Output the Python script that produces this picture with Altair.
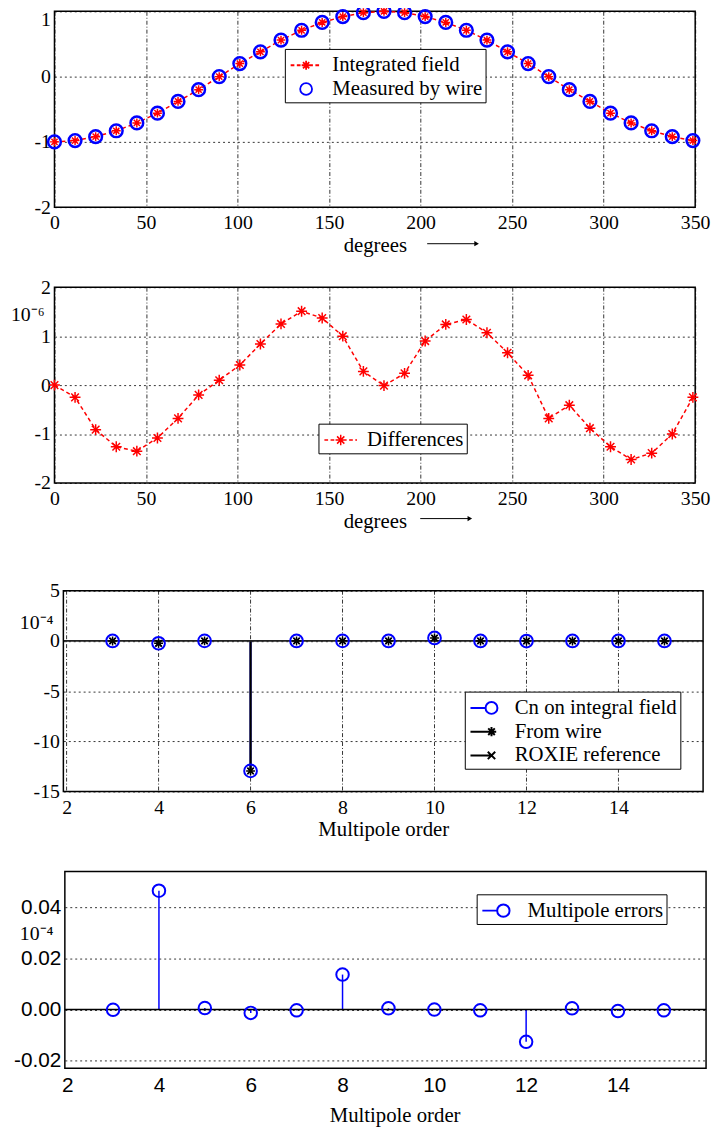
import altair as alt
import pandas as pd

# ---------------- data ----------------
angles = [0, 11.25, 22.5, 33.75, 45, 56.25, 67.5, 78.75, 90, 101.25, 112.5, 123.75,
          135, 146.25, 157.5, 168.75, 180, 191.25, 202.5, 213.75, 225, 236.25, 247.5,
          258.75, 270, 281.25, 292.5, 303.75, 315, 326.25, 337.5, 348.75]
integrated_field = [-1.00, -0.98, -0.92, -0.83, -0.71, -0.56, -0.38, -0.20, 0.00, 0.20,
                    0.38, 0.56, 0.71, 0.83, 0.92, 0.98, 1.00, 0.98, 0.92, 0.83, 0.71,
                    0.56, 0.38, 0.20, 0.00, -0.20, -0.38, -0.56, -0.71, -0.83, -0.92, -0.98]
measured_by_wire = [-1.00, -0.98, -0.92, -0.83, -0.71, -0.56, -0.38, -0.20, 0.00, 0.20,
                    0.38, 0.56, 0.71, 0.83, 0.92, 0.98, 1.00, 0.98, 0.92, 0.83, 0.71,
                    0.56, 0.38, 0.20, 0.00, -0.20, -0.38, -0.56, -0.71, -0.83, -0.92, -0.98]
differences = [0.00, -0.25, -0.91, -1.26, -1.35, -1.08, -0.68, -0.20, 0.10, 0.41, 0.84,
               1.25, 1.51, 1.37, 1.00, 0.28, -0.01, 0.24, 0.90, 1.24, 1.34, 1.07, 0.66,
               0.20, -0.68, -0.41, -0.88, -1.26, -1.52, -1.39, -1.00, -0.25]

orders = [3, 4, 5, 6, 7, 8, 9, 10, 11, 12, 13, 14, 15]
cn_integral = [0.00, -0.23, 0.01, -12.95, 0.00, 0.01, 0.00, 0.30, 0.00, -0.01, 0.00, 0.00, 0.00]
from_wire = [0.00, -0.23, 0.01, -12.95, 0.00, 0.01, 0.00, 0.30, 0.00, -0.01, 0.00, 0.00, 0.00]
roxie_reference = [0.00, -0.25, 0.00, -12.96, 0.00, 0.00, 0.00, 0.28, 0.00, 0.00, 0.00, 0.00, 0.00]
multipole_errors = [-0.0001, 0.0465, 0.0006, -0.0013, -0.0003, 0.0137, 0.0005, 0.0000,
                    -0.0003, -0.0126, 0.0005, -0.0006, -0.0003]

series1 = ["Integrated field", "Measured by wire"]
series2 = ["Differences"]
series3 = ["Cn on integral field", "From wire", "ROXIE reference"]
series4 = ["Multipole errors"]

x1_ticks = [0, 50, 100, 150, 200, 250, 300, 350]
y1_ticks = [-2, -1, 0, 1]
y2_ticks = [-2, -1, 0, 1, 2]
x3_ticks = [2, 4, 6, 8, 10, 12, 14]
y3_ticks = [-15, -10, -5, 0, 5]
y4_ticks = [-0.02, 0.0, 0.02, 0.04]

x1_domain = [0, 350]
y1_domain = [-2, 1]
y2_domain = [-2, 2]
x3_domain = [1.93, 15.84]
y3_domain = [-15, 5]
x4_domain = [1.95, 15.92]
y4_domain = [-0.023, 0.054]

exp6 = "10\u207b\u2076"
exp4 = "10\u207b\u2074"
arrow1 = [203.6, 230.6]   # "degrees ->" arrow span, in degrees (panel 1)
arrow2 = [199.8, 226.9]   # same, panel 2

# ---------------- styles ----------------
SERIF = "Liberation Serif"
SANS = "Liberation Sans"
RED = "#ff0000"
BLUE = "#0000ff"
BLACK = "#000000"
MINUS_FIX = "replace(datum.label, '\u2212', '-')"


def star(r):
    d = 0.7 * r
    return (f"M{-r},0H{r}M0,{-r}V{r}M{-d:.3f},{-d:.3f}L{d:.3f},{d:.3f}"
            f"M{-d:.3f},{d:.3f}L{d:.3f},{-d:.3f}")


def xmark(r):
    return f"M{-r},{-r}L{r},{r}M{-r},{r}L{r},{-r}"


def circle(r):
    return f"M{r},0A{r},{r} 0 1,1 {-r},0A{r},{r} 0 1,1 {r},0Z"


def dashed(x0, x1, dash, gap):
    out, x = [], x0
    while x < x1 - 1e-9:
        e = min(x + dash, x1)
        out.append(f"M{x:.3f},0H{e:.3f}")
        x = e + gap
    return "".join(out)


STAR = star(1)
XMARK = xmark(0.8)
LEG_SIZE = 625  # legend symbol unit = 12.5 px


def legend(x, y, sym_off, lab_off, sw):
    return alt.Legend(
        title=None, orient="none", legendX=x, legendY=y, direction="vertical",
        symbolSize=LEG_SIZE, rowPadding=0, padding=3,
        strokeColor="black", fillColor="white",
        labelFont=SERIF, labelFontSize=21, labelColor="black", labelLimit=400,
        symbolOffset=sym_off, labelOffset=lab_off, symbolStrokeWidth=sw,
        symbolFillColor="transparent", symbolOpacity=1,
    )


def legend_layer(df, x, y, series, colors, paths, leg):
    """Draws nothing itself; it only gives the panel its legend symbols."""
    return (
        alt.Chart(df).transform_filter("false")
        .mark_point(filled=False, opacity=1)
        .encode(
            x=x, y=y,
            color=alt.Color("series:N", scale=alt.Scale(domain=series, range=colors), legend=leg),
            shape=alt.Shape("series:N", scale=alt.Scale(domain=series, range=paths), legend=leg),
        )
    )


def arrow_layers(span, ypix):
    return [
        alt.Chart(one).mark_rule(color=BLACK, strokeWidth=1)
        .encode(x=alt.XDatum(span[0]), x2=alt.X2Datum(span[1]), y=alt.value(ypix)),
        alt.Chart(one).mark_point(shape="triangle-right", filled=True, size=28, color=BLACK,
                                  opacity=1)
        .encode(x=alt.XDatum(span[1]), y=alt.value(ypix)),
    ]


one = pd.DataFrame({"k": [0]})

# ---------------- panel 1 ----------------
d1a = pd.DataFrame({"angle": angles, "value": integrated_field, "series": series1[0]})
d1b = pd.DataFrame({"angle": angles, "value": measured_by_wire, "series": series1[1]})

leg1 = legend(233, 38, 5, 13, 1.8)
col1 = alt.Color("series:N", scale=alt.Scale(domain=series1, range=[RED, BLUE]), legend=leg1)

x1 = alt.X("angle:Q", scale=alt.Scale(domain=x1_domain, nice=False, zero=False),
           axis=alt.Axis(values=x1_ticks, title="degrees", gridDash=[4, 2, 1, 2],
                         labelPadding=6, titlePadding=2, labelExpr=MINUS_FIX))
y1 = alt.Y("value:Q", scale=alt.Scale(domain=y1_domain, nice=False, zero=False),
           axis=alt.Axis(values=y1_ticks, title=None, gridDash=[2, 3], labelPadding=4,
                         labelExpr=MINUS_FIX,
                         labelOffset={"condition": {"test": "datum.value == 1", "value": 8},
                                      "value": 0}))

p1 = alt.layer(
    alt.Chart(d1a).mark_line(color=RED, strokeWidth=1.5, strokeDash=[4, 3]).encode(x=x1, y=y1),
    alt.Chart(d1b).mark_point(shape="circle", size=165, strokeWidth=2.5, filled=False, opacity=1)
    .encode(x=x1, y=y1, color=col1),
    alt.Chart(d1a).mark_point(shape=STAR, size=81, strokeWidth=1.5, filled=False, opacity=1)
    .encode(x=x1, y=y1, color=col1),
    legend_layer(d1a, x1, y1, series1, [RED, BLUE],
                 [dashed(-1.25, 1.25, 0.3, 0.2) + star(0.36), circle(0.48)], leg1),
    *arrow_layers(arrow1, 235),
).properties(width=648, height=198)

# ---------------- panel 2 ----------------
d2 = pd.DataFrame({"angle": angles, "value": differences, "series": series2[0]})
leg2 = legend(267, 138, 6, 13, 1.5)
col2 = alt.Color("series:N", scale=alt.Scale(domain=series2, range=[RED]), legend=leg2)
y2 = alt.Y("value:Q", scale=alt.Scale(domain=y2_domain, nice=False, zero=False),
           axis=alt.Axis(values=y2_ticks, title=None, gridDash=[2, 3], labelPadding=4,
                         labelExpr=MINUS_FIX))
p2 = alt.layer(
    alt.Chart(d2).mark_line(color=RED, strokeWidth=1.5, strokeDash=[4, 3]).encode(x=x1, y=y2),
    alt.Chart(d2).mark_point(shape=STAR, size=121, strokeWidth=1.5, filled=False, opacity=1)
    .encode(x=x1, y=y2, color=col2),
    legend_layer(d2, x1, y2, series2, [RED],
                 [dashed(-1.32, 1.32, 0.3, 0.2) + star(0.42)], leg2),
    alt.Chart(one).mark_text(text=exp6, font=SERIF, fontSize=20, color=BLACK,
                             align="right", baseline="alphabetic")
    .encode(x=alt.value(-10), y=alt.YDatum(1.3)),
    *arrow_layers(arrow2, 234),
).properties(width=648, height=198)

# ---------------- panel 3 ----------------
d3a = pd.DataFrame({"order": orders, "value": cn_integral, "series": series3[0]})
d3b = pd.DataFrame({"order": orders, "value": from_wire, "series": series3[1]})
d3c = pd.DataFrame({"order": orders, "value": roxie_reference, "series": series3[2]})
d3g = pd.DataFrame({"order": x3_ticks})

leg3 = legend(415, 130, 10.5, 10, 2)
col3 = alt.Color("series:N", scale=alt.Scale(domain=series3, range=[BLUE, BLACK, BLACK]),
                 legend=leg3)
x3 = alt.X("order:Q", scale=alt.Scale(domain=x3_domain, range=[9, 656], nice=False, zero=False),
           axis=alt.Axis(values=x3_ticks, title="Multipole order", grid=False,
                         labelPadding=6, titlePadding=2))
y3 = alt.Y("value:Q", scale=alt.Scale(domain=y3_domain, range=[231, 28], nice=False, zero=False),
           axis=alt.Axis(values=y3_ticks, title=None, gridDash=[2, 3], labelPadding=4,
                         offset=-9, labelExpr=MINUS_FIX))
zero3 = alt.Y2Datum(0)

p3 = alt.layer(
    alt.Chart(d3g).mark_rule(color=BLACK, strokeWidth=0.8, strokeDash=[4, 2, 1, 2])
    .encode(x=x3, y=alt.YDatum(y3_domain[1]), y2=alt.Y2Datum(y3_domain[0])),
    alt.Chart(d3a).mark_rule(color=BLUE, strokeWidth=2).encode(x=x3, y=y3, y2=zero3),
    alt.Chart(d3b).mark_rule(color=BLACK, strokeWidth=2).encode(x=x3, y=y3, y2=zero3),
    alt.Chart(d3c).mark_rule(color=BLACK, strokeWidth=1.5).encode(x=x3, y=y3, y2=zero3),
    alt.Chart(one).mark_rule(color="#222222", strokeWidth=1.8)
    .encode(x=alt.XDatum(x3_domain[0]), x2=alt.X2Datum(x3_domain[1]), y=alt.YDatum(0)),
    alt.Chart(d3a).mark_point(shape="circle", size=165, strokeWidth=2, filled=False, opacity=1)
    .encode(x=x3, y=y3, color=col3),
    alt.Chart(d3b).mark_point(shape=STAR, size=81, strokeWidth=1.5, filled=False, opacity=1)
    .encode(x=x3, y=y3, color=col3),
    alt.Chart(d3c).mark_point(shape=XMARK, size=64, strokeWidth=1.5, filled=False, opacity=1)
    .encode(x=x3, y=y3, color=col3),
    legend_layer(d3a, x3, y3, series3, [BLUE, BLACK, BLACK],
                 ["M-1.7,0H-0.48" + circle(0.48), "M-1.7,0H0" + star(0.38),
                  "M-1.7,0H0" + xmark(0.3)], leg3),
    alt.Chart(one).mark_rect(fill="transparent", stroke=BLACK, strokeWidth=1.5)
    .encode(x=alt.XDatum(x3_domain[0]), x2=alt.X2Datum(x3_domain[1]),
            y=alt.YDatum(y3_domain[1]), y2=alt.Y2Datum(y3_domain[0])),
    alt.Chart(one).mark_text(text=exp4, font=SERIF, fontSize=20, color=BLACK,
                             align="right", baseline="alphabetic")
    .encode(x=alt.value(-1), y=alt.YDatum(1.16)),
).properties(width=656, height=231, view=alt.ViewBackground(stroke="transparent"))

# ---------------- panel 4 ----------------
d4 = pd.DataFrame({"order": orders, "value": multipole_errors, "series": series4[0]})
leg4 = legend(427, 23, 10.5, 11, 2)
col4 = alt.Color("series:N", scale=alt.Scale(domain=series4, range=[BLUE]), legend=leg4)
x4 = alt.X("order:Q", scale=alt.Scale(domain=x4_domain, range=[10.5, 659], nice=False, zero=False),
           axis=alt.Axis(values=x3_ticks, title="Multipole order", grid=False,
                         labelFont=SANS, labelFontSize=21, labelPadding=6, titlePadding=10,
                         titleX=344, titleAnchor="start", titleAlign="center"))
y4 = alt.Y("value:Q", scale=alt.Scale(domain=y4_domain, nice=False, zero=False),
           axis=alt.Axis(values=y4_ticks, title=None, gridDash=[2, 3], labelPadding=4,
                         offset=-10.5, format=".2f", labelExpr=MINUS_FIX,
                         labelFont=SANS, labelFontSize=21))
p4 = alt.layer(
    alt.Chart(d4).mark_rule(color=BLUE, strokeWidth=1.5).encode(x=x4, y=y4, y2=alt.Y2Datum(0)),
    alt.Chart(one).mark_rule(color=BLACK, strokeWidth=1.5)
    .encode(x=alt.XDatum(x4_domain[0]), x2=alt.X2Datum(x4_domain[1]), y=alt.YDatum(0)),
    alt.Chart(d4).mark_point(shape="circle", size=160, strokeWidth=2, filled=False, opacity=1)
    .encode(x=x4, y=y4, color=col4),
    legend_layer(d4, x4, y4, series4, [BLUE], ["M-1.7,0H-0.5" + circle(0.5)], leg4),
    alt.Chart(one).mark_rect(fill="transparent", stroke=BLACK, strokeWidth=1.5)
    .encode(x=alt.XDatum(x4_domain[0]), x2=alt.X2Datum(x4_domain[1]),
            y=alt.YDatum(y4_domain[1]), y2=alt.Y2Datum(y4_domain[0])),
    alt.Chart(one).mark_text(text=exp4, font=SERIF, fontSize=20, color=BLACK,
                             align="right", baseline="alphabetic")
    .encode(x=alt.value(-1), y=alt.YDatum(0.0274)),
).properties(width=659, height=199, view=alt.ViewBackground(stroke="transparent"))

chart = (
    alt.vconcat(p1, p2, p3, p4, spacing=81, bounds="flush")
    .resolve_scale(color="independent", shape="independent")
    .properties(padding={"left": 2, "top": -16, "right": 0, "bottom": 0})
    .configure_view(stroke=BLACK, strokeWidth=1.5)
    .configure_axis(labelFont=SERIF, labelFontSize=20, labelColor=BLACK,
                    titleFont=SERIF, titleFontSize=21, titleFontWeight="normal",
                    titleColor=BLACK, grid=True, gridColor=BLACK, gridOpacity=1,
                    gridWidth=0.8, domain=False, ticks=False, labelFlush=False,
                    labelOverlap=False)
)

chart.save("out.html", embed_options={"renderer": "svg", "actions": False})
